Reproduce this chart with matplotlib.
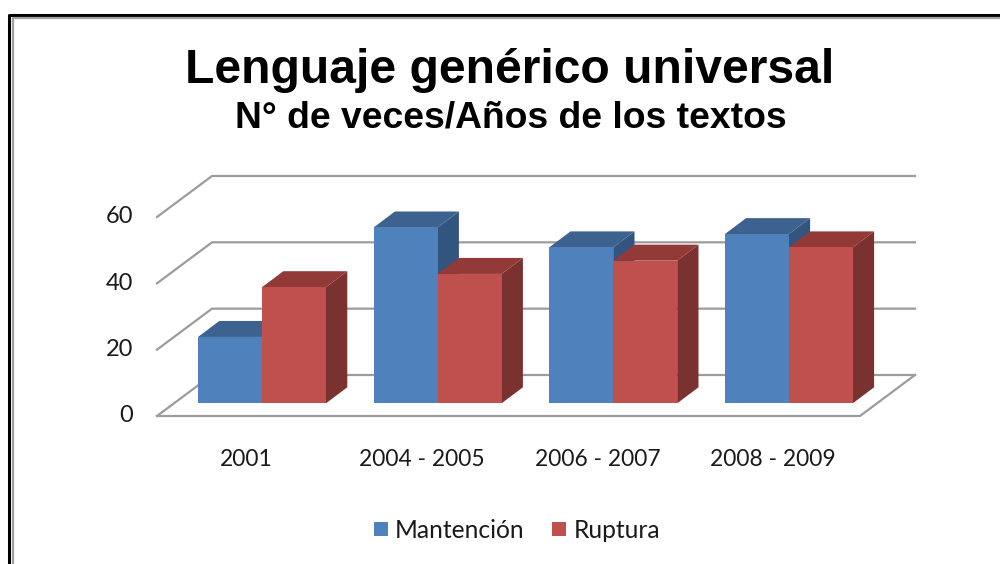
import matplotlib
matplotlib.use('Agg')
import matplotlib.pyplot as plt
from matplotlib.patches import Rectangle

# values
CATEGORIES = ['2001', '2004 - 2005', '2006 - 2007', '2008 - 2009']
MANTENCION = [20, 53, 47, 51]
RUPTURA = [35, 39, 43, 47]
Y_TICKS = [0, 20, 40, 60]

# colours: front, top, side
BLUE = ('#4F81BD', '#3D6290', '#32547F')
RED = ('#C0504D', '#913A38', '#7A3130')
GRID = '#9C9C9C'

# scale of the picture, pixels per unit
W, H = 1000, 564
PX_X = 175.6
PX_Y = 3.317
X0, Y0 = 262, 403.3
BAR_W = 64 / PX_X
BAR_DX, BAR_DY = 21.3 / PX_X, 16 / PX_Y
WALL_DX, WALL_DY = 55 / PX_X, 41 / PX_Y
FLOOR_Y = -12.7 / PX_Y
FLOOR_X0 = (157 - X0) / PX_X
FLOOR_X1 = (860 - X0) / PX_X


def px(x, y):
    return (x - X0) / PX_X, (Y0 - y) / PX_Y


# one bar with its front, top and side faces
def draw_bar(ax, left, value, colours, z):
    right = left + BAR_W
    ax.fill([right, right + BAR_DX, right + BAR_DX, right],
            [0, BAR_DY, value + BAR_DY, value], color=colours[2], lw=0, zorder=z)
    ax.fill([left, right, right + BAR_DX, left + BAR_DX],
            [value, value, value + BAR_DY, value + BAR_DY], color=colours[1], lw=0, zorder=z)
    ax.bar(left, value, BAR_W, align='edge', color=colours[0], lw=0, zorder=z)


fig = plt.figure(figsize=(W / 100, H / 100), dpi=100)
ax = fig.add_axes([0, 0, 1, 1])
ax.set_xlim(-X0 / PX_X, (W - X0) / PX_X)
ax.set_ylim((Y0 - H) / PX_Y, Y0 / PX_Y)
ax.axis('off')

# frame of the screenshot
ax.plot(*zip(px(8.7, H), px(8.7, 14.7), px(W, 14.7)), color='black', lw=2.2, zorder=1)
ax.plot(*zip(px(12.5, H), px(12.5, 17.7), px(W, 17.7)), color='#A0A0A0', lw=1.6, zorder=1)

# back wall and side wall grid lines
for tick in Y_TICKS:
    y = FLOOR_Y + tick
    ax.plot([FLOOR_X0, FLOOR_X0 + WALL_DX, FLOOR_X1 + WALL_DX],
            [y, y + WALL_DY, y + WALL_DY], color=GRID, lw=1.6, zorder=2)
    ax.text(FLOOR_X0 - 24 / PX_X, y, str(tick), ha='right', va='center',
            fontsize=17, family='Lato', color='#1A1A1A')

# floor
ax.plot([FLOOR_X0, FLOOR_X1, FLOOR_X1 + WALL_DX],
        [FLOOR_Y, FLOOR_Y, FLOOR_Y + WALL_DY], color=GRID, lw=1.6, zorder=2)

for i, name in enumerate(CATEGORIES):
    draw_bar(ax, i - BAR_W, MANTENCION[i], BLUE, 3 + i)
    draw_bar(ax, i, RUPTURA[i], RED, 3 + i + 0.5)
    ax.text(i - 0.09, (Y0 - 459) / PX_Y, name, ha='center', va='center',
            fontsize=16.4, family='Lato', color='#1A1A1A')

# titles
tx, ty = px(510, 71)
ax.text(tx, ty, 'Lenguaje genérico universal', ha='center', va='center',
        fontsize=34.6, fontweight='bold', family='Liberation Sans', color='black')
tx, ty = px(511, 118)
ax.text(tx, ty, 'N° de veces/Años de los textos', ha='center', va='center',
        fontsize=26.8, fontweight='bold', family='Liberation Sans', color='black')

# legend
for sx, colours, label, lx in [(374, BLUE, 'Mantención', 395), (552, RED, 'Ruptura', 574)]:
    x, y = px(sx, 536)
    ax.add_patch(Rectangle((x, y), 14 / PX_X, 14 / PX_Y, color=colours[0], lw=0))
    x, y = px(lx, 531)
    ax.text(x, y, label, ha='left', va='center', fontsize=17.7, family='Lato', color='#1A1A1A')

fig.savefig('out.png', dpi=100)
